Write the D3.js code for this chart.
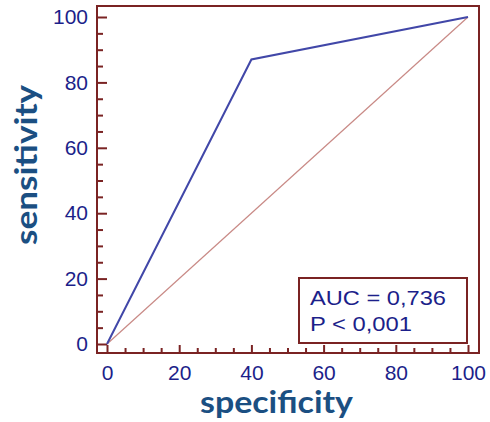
<!DOCTYPE html>
<html>
<head>
<meta charset="utf-8">
<script src="https://cdn.jsdelivr.net/npm/d3@7"></script>
<style>
  body { margin: 0; background: #fff; }
  .tick text { font-family: "Liberation Sans", Arial, sans-serif; font-size: 21px; fill: #1c1f8a; }
  .title { font-family: Lato, "Open Sans", sans-serif; font-weight: bold; font-size: 30px; fill: #1b4f82; }
  .stat { font-family: "Liberation Sans", Arial, sans-serif; font-size: 21px; fill: #1c1f8a; }
</style>
</head>
<body>
<svg id="chart" width="490" height="422"></svg>
<script>
// ROC curve points: specificity axis (x) and sensitivity (y), in %
var rocX = [0, 40, 100];
var rocY = [0, 87, 100];
var refX = [0, 100];
var refY = [0, 100];
var majorTicks = [0, 20, 40, 60, 80, 100];
var minorTicks = d3.range(0, 101, 5).filter(function(d) { return d % 20 !== 0; });
var statLines = ["AUC = 0,736", "P < 0,001"];

var frameColor = "#7a2323";
var frame = {left: 97, right: 479, top: 6, bottom: 353};

var svg = d3.select("#chart");

var x = d3.scaleLinear().domain([0, 100]).range([107, 468]);
var y = d3.scaleLinear().domain([0, 100]).range([344, 17]);

// frame
svg.append("rect")
  .attr("x", frame.left).attr("y", frame.top)
  .attr("width", frame.right - frame.left)
  .attr("height", frame.bottom - frame.top)
  .attr("fill", "none")
  .attr("stroke", frameColor)
  .attr("stroke-width", 2);

// y axis (ticks pointing inward)
svg.append("g")
  .attr("transform", "translate(" + frame.left + ",0)")
  .call(d3.axisLeft(y).tickValues(majorTicks).tickSize(-10).tickPadding(9));
svg.append("g")
  .attr("transform", "translate(" + frame.left + ",0)")
  .call(d3.axisLeft(y).tickValues(minorTicks).tickSize(-6).tickFormat(""));

svg.append("g")
  .attr("transform", "translate(0," + frame.bottom + ")")
  .call(d3.axisBottom(x).tickValues(majorTicks).tickSize(-8).tickPadding(12));
svg.append("g")
  .attr("transform", "translate(0," + frame.bottom + ")")
  .call(d3.axisBottom(x).tickValues(minorTicks).tickSize(-5).tickFormat(""));

svg.selectAll(".domain").remove();
svg.selectAll(".tick line").attr("stroke", frameColor).attr("stroke-width", 2);

// reference diagonal
svg.append("path")
  .datum(d3.zip(refX, refY))
  .attr("d", d3.line().x(function(d) { return x(d[0]); }).y(function(d) { return y(d[1]); }))
  .attr("fill", "none")
  .attr("stroke", "#c98a86")
  .attr("stroke-width", 1.2);

// ROC curve
svg.append("path")
  .datum(d3.zip(rocX, rocY))
  .attr("d", d3.line().x(function(d) { return x(d[0]); }).y(function(d) { return y(d[1]); }))
  .attr("fill", "none")
  .attr("stroke", "#4147a8")
  .attr("stroke-width", 2);

// stats box
svg.append("rect")
  .attr("x", 299).attr("y", 278)
  .attr("width", 168).attr("height", 65)
  .attr("fill", "#fff")
  .attr("stroke", frameColor)
  .attr("stroke-width", 2);
svg.selectAll(".stat").data(statLines).enter().append("text")
  .attr("class", "stat")
  .attr("x", 310)
  .attr("y", function(d, i) { return 305 + i * 26; })
  .attr("textLength", function(d, i) { return i === 0 ? 136 : 102; })
  .attr("lengthAdjust", "spacingAndGlyphs")
  .text(function(d) { return d; });

// axis titles
svg.append("text")
  .attr("class", "title")
  .attr("x", 200).attr("y", 413)
  .attr("textLength", 153)
  .attr("lengthAdjust", "spacingAndGlyphs")
  .text("specificity");
svg.append("text")
  .attr("class", "title")
  .attr("transform", "translate(37,245) rotate(-90)")
  .attr("textLength", 160)
  .attr("lengthAdjust", "spacingAndGlyphs")
  .text("sensitivity");
</script>
</body>
</html>
